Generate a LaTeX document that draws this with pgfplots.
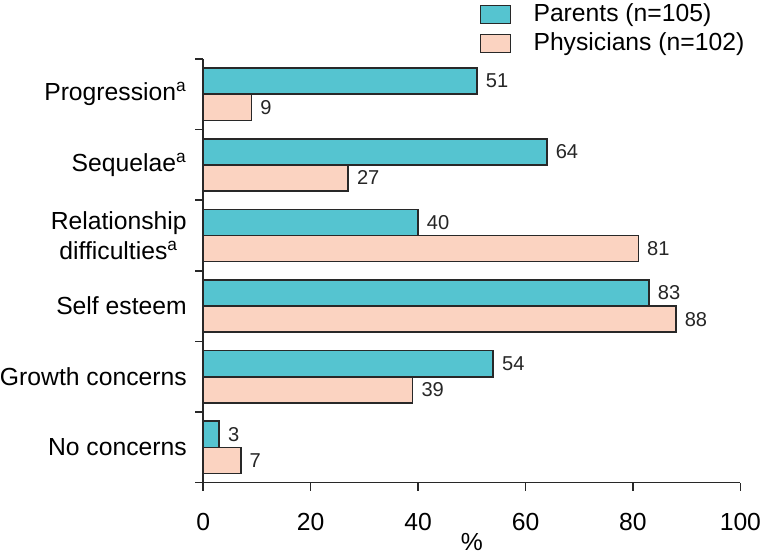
\documentclass[border=0pt]{standalone}
\usepackage{pgfplots}
\pgfplotsset{compat=1.18}
\usepackage{fontspec}
\setmainfont{Liberation Sans}
\definecolor{tealc}{RGB}{85,196,208}
\definecolor{peachc}{RGB}{251,211,193}
\definecolor{edgec}{RGB}{40,40,40}
\begin{document}
\begin{tikzpicture}
\begin{axis}[
  scale only axis, width=267.5pt, height=211pt,
  xbar, bar width=13pt, bar shift=0pt,
  xmin=0, xmax=100, ymin=-0.5, ymax=5.5,
  /pgf/number format/assume math mode=true,
  axis x line*=bottom, axis y line*=left,
  axis line style={edgec, line width=0.8pt},
  every tick/.style={edgec, line width=0.8pt},
  tick align=outside,
  xtick={0,20,...,100},
  major tick length=4pt,
  ytick={0,...,5},
  yticklabels={No concerns, Growth concerns, Self esteem, {Relationship\\difficulties\textsuperscript{a}}, Sequelae\textsuperscript{a}, Progression\textsuperscript{a}},
  minor ytick={-0.5,0.5,...,5.5},
  every major y tick/.append style={draw=none},
  minor tick length=4pt,
  yticklabel style={align=center, inner sep=0pt, xshift=-4pt, font=\fontsize{12.3}{15}\selectfont},
  xticklabel style={font=\fontsize{12.3}{14}\selectfont, inner sep=0pt, yshift=-11pt},
  xlabel={\%},
  xlabel style={font=\fontsize{12.3}{14}\selectfont, inner sep=1pt, yshift=0pt},
  nodes near coords,
  every node near coord/.append style={font=\fontsize{10}{12}\selectfont, anchor=west, inner sep=0pt, xshift=4pt, color=black!85},
  legend style={at={(0.514,1.14)}, anchor=north west, draw=none, fill=none,
    font=\fontsize{12.3}{14}\selectfont, inner sep=0pt, row sep=0pt, column sep=9pt,
    cells={anchor=west, inner sep=0.5pt}},
  legend image code/.code={\draw[#1] (0pt,-4.5pt) rectangle (15pt,4.5pt);},
]
\addplot[fill=tealc, draw=edgec, line width=0.8pt] coordinates {(3,0.185) (54,1.185) (83,2.185) (40,3.185) (64,4.185) (51,5.185)};
\addplot[fill=peachc, draw=edgec, line width=0.8pt] coordinates {(7,-0.185) (39,0.815) (88,1.815) (81,2.815) (27,3.815) (9,4.815)};
\legend{Parents (n=105), Physicians (n=102)}
\end{axis}
\end{tikzpicture}
\end{document}
